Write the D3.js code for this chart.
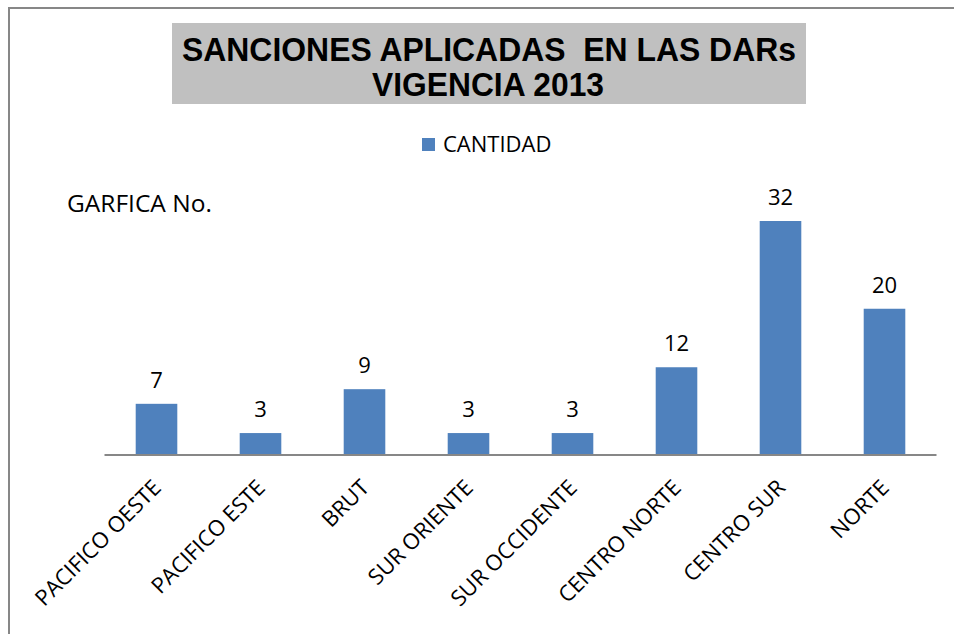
<!DOCTYPE html>
<html>
<head>
<meta charset="utf-8">
<script src="https://cdn.jsdelivr.net/npm/d3@7"></script>
<style>
  body { margin: 0; background: #fff; }
  svg { display: block; }
  .lbl { font-family: "Open Sans", "Noto Sans", sans-serif; fill: #000; }
</style>
</head>
<body>
<svg id="chart" width="954" height="634"></svg>
<script>
// ---- Datos
const categorias = ["PACIFICO OESTE", "PACIFICO ESTE", "BRUT", "SUR ORIENTE",
                    "SUR OCCIDENTE", "CENTRO NORTE", "CENTRO SUR", "NORTE"];
const cantidad = [7, 3, 9, 3, 3, 12, 32, 20];
const serieNombre = "CANTIDAD";
const titulo = ["SANCIONES APLICADAS  EN LAS DARs", "VIGENCIA 2013"];
const nota = "GARFICA No.";

const data = categorias.map((c, i) => ({ cat: c, val: cantidad[i] }));

const svg = d3.select("#chart");
const azul = "#4F81BD";

// marco
svg.append("rect")
    .attr("x", 9).attr("y", 8)
    .attr("width", 960).attr("height", 640)
    .attr("fill", "none")
    .attr("stroke", "#878787")
    .attr("stroke-width", 2);

// ---- Titulo
svg.append("rect")
    .attr("x", 172).attr("y", 23)
    .attr("width", 634).attr("height", 81)
    .attr("fill", "#C0C0C0");

svg.append("text")
    .attr("x", 489).attr("y", 61)
    .attr("text-anchor", "middle")
    .attr("textLength", 614).attr("lengthAdjust", "spacingAndGlyphs")
    .style("font-family", "'Liberation Sans', Arial, sans-serif")
    .style("font-weight", "bold").style("font-size", "33px")
    .style("white-space", "pre")
    .text(titulo[0]);

svg.append("text")
    .attr("x", 488).attr("y", 96)
    .attr("text-anchor", "middle")
    .attr("textLength", 232).attr("lengthAdjust", "spacingAndGlyphs")
    .style("font-family", "'Liberation Sans', Arial, sans-serif")
    .style("font-weight", "bold").style("font-size", "33px")
    .text(titulo[1]);

// ---- Leyenda
svg.append("rect")
    .attr("x", 422).attr("y", 138)
    .attr("width", 13).attr("height", 13)
    .attr("fill", azul);
svg.append("text")
    .attr("class", "lbl")
    .attr("x", 443).attr("y", 152)
    .style("font-size", "22px")
    .text(serieNombre);

svg.append("text")
    .attr("class", "lbl")
    .attr("x", 67).attr("y", 212)
    .style("font-size", "24.5px")
    .text(nota);

// ---- Escalas
const baseY = 455;
const mapX = d3.scaleBand()
    .domain(categorias)
    .range([104.5, 936.5])
    .paddingInner(0.6)
    .paddingOuter(0.3);

const mapY = d3.scaleLinear()
    .domain([0, 32])
    .range([baseY, 221]);

// ---- Barras
svg.append("g")
    .selectAll("rect")
    .data(data)
    .enter()
    .append("rect")
    .attr("x", d => mapX(d.cat))
    .attr("y", d => mapY(d.val))
    .attr("width", mapX.bandwidth())
    .attr("height", d => baseY - mapY(d.val))
    .attr("fill", azul);

// valores
svg.append("g")
    .selectAll("text")
    .data(data)
    .enter()
    .append("text")
    .attr("class", "lbl")
    .attr("x", d => mapX(d.cat) + mapX.bandwidth() / 2)
    .attr("y", d => mapY(d.val) - 16)
    .attr("text-anchor", "middle")
    .style("font-size", "22px")
    .text(d => d.val);

// ---- Eje X
const xAxis = d3.axisBottom(mapX).tickSize(0).tickPadding(0);
const gx = svg.append("g")
    .attr("transform", `translate(0, ${baseY})`)
    .call(xAxis);
gx.select(".domain")
    .attr("d", `M${mapX.range()[0]},0H${mapX.range()[1]}`)
    .attr("stroke", "#878787")
    .attr("stroke-width", 2);
gx.selectAll(".tick text")
    .attr("class", "lbl")
    .style("font-size", "22px")
    .attr("text-anchor", "end")
    .attr("x", 0).attr("y", 0).attr("dy", null)
    .attr("transform", "translate(6, 34) rotate(-45)");
</script>
</body>
</html>
